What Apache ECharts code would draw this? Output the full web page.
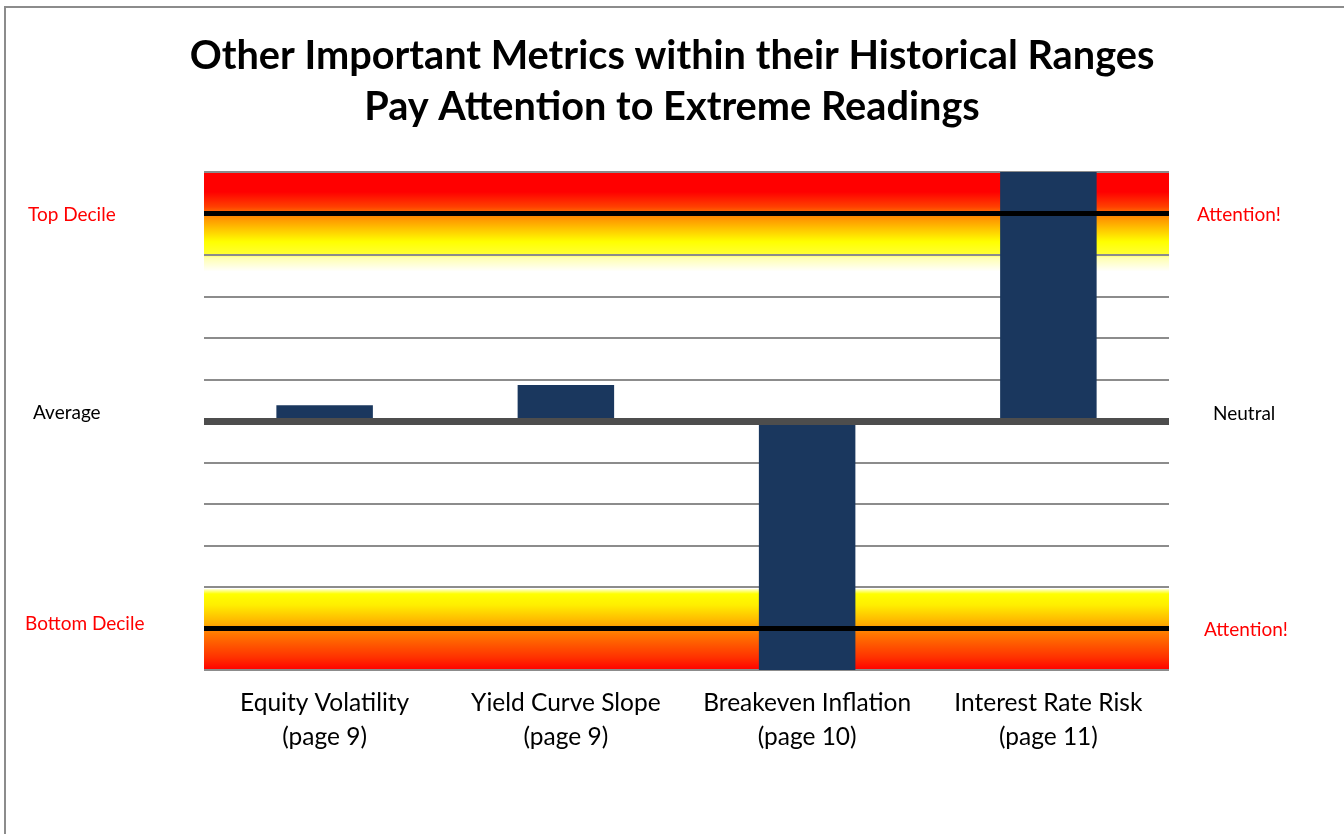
<!DOCTYPE html>
<html>
<head>
<meta charset="utf-8">
<script src="https://cdn.jsdelivr.net/npm/echarts@6/dist/echarts.min.js"></script>
<style>
html,body{margin:0;padding:0;background:#fff;}
#chart{width:1344px;height:834px;}
</style>
</head>
<body>
<div id="chart"></div>
<script>
// ---- data ----
const categories = ['Equity Volatility', 'Yield Curve Slope', 'Breakeven Inflation', 'Interest Rate Risk'];
const pageRefs = ['(page 9)', '(page 9)', '(page 10)', '(page 11)'];
const values = [0.38, 0.87, -6, 6];
const axisMin = -6;
const axisMax = 6;
const axisStep = 1;
const topDecile = 5;
const bottomDecile = -5;
const neutralLevel = 0;
const topBandLow = 3.6;
const bottomBandHigh = -4.05;
const titleLines = ['Other Important Metrics within their Historical Ranges', 'Pay Attention to Extreme Readings'];
const sideLabels = ['Top Decile', 'Attention!', 'Average', 'Neutral', 'Bottom Decile', 'Attention!'];

const FONT = 'Lato, "Open Sans", sans-serif';
const chart = echarts.init(document.getElementById('chart'), null, {renderer: 'canvas'});

const topGrad = {type: 'linear', x: 0, y: 0, x2: 0, y2: 1, colorStops: [
  {offset: 0, color: '#ff0000'}, {offset: 0.2, color: '#ff0000'},
  {offset: 0.35, color: '#ff4000'}, {offset: 0.44, color: '#ff8800'},
  {offset: 0.70, color: '#ffff00'}, {offset: 0.82, color: '#ffff30'},
  {offset: 0.86, color: '#ffffb0'}, {offset: 1, color: '#ffffff'}
]};
const botGrad = {type: 'linear', x: 0, y: 0, x2: 0, y2: 1, colorStops: [
  {offset: 0, color: '#ffffd0'}, {offset: 0.06, color: '#ffff00'},
  {offset: 0.2, color: '#ffee00'}, {offset: 0.42, color: '#ffb000'},
  {offset: 0.55, color: '#ff7800'}, {offset: 0.85, color: '#ff3000'},
  {offset: 1, color: '#ff0000'}
]};

function sideText(txt, x, y, color) {
  return {type: 'text', x: x, y: y, z: 10,
    style: {text: txt, fill: color, font: '19px ' + FONT, textVerticalAlign: 'middle'}};
}

chart.setOption({
  animation: false,
  backgroundColor: '#ffffff',
  title: {
    text: titleLines.join('\n'),
    left: 'center', top: 26,
    textStyle: {fontFamily: FONT, fontWeight: 'bold', fontSize: 39.7, lineHeight: 51, color: '#000'}
  },
  grid: {left: 204, right: 175, top: 172, bottom: 164},
  xAxis: {
    type: 'category',
    data: categories.map((c, i) => c + '\n' + pageRefs[i]),
    axisLine: {show: false}, axisTick: {show: false},
    axisLabel: {fontFamily: FONT, fontSize: 24.5, lineHeight: 34, color: '#000', margin: 16, interval: 0}
  },
  yAxis: {
    type: 'value', min: axisMin, max: axisMax, interval: axisStep, z: 2,
    axisLabel: {show: false}, axisLine: {show: false}, axisTick: {show: false},
    splitLine: {show: true, lineStyle: {color: '#8c8c8c', width: 2}}
  },
  graphic: [
    {type: 'rect', z: 10, shape: {x: 5, y: 7, width: 1400, height: 900},
     style: {fill: 'none', stroke: '#8c8c8c', lineWidth: 2}},
    sideText(sideLabels[0], 28, 215, '#ff0000'),
    sideText(sideLabels[1], 1197, 215, '#ff0000'),
    sideText(sideLabels[2], 33, 413, '#000000'),
    sideText(sideLabels[3], 1213, 414, '#000000'),
    sideText(sideLabels[4], 25, 624, '#ff0000'),
    sideText(sideLabels[5], 1204, 630, '#ff0000')
  ],
  series: [
    {
      type: 'line', data: [], z: 1, silent: true,
      markArea: {silent: true, data: [
        [{yAxis: axisMax, itemStyle: {color: topGrad}}, {yAxis: topBandLow}],
        [{yAxis: bottomBandHigh, itemStyle: {color: botGrad}}, {yAxis: axisMin}]
      ]}
    },
    {
      type: 'line', data: [], z: 2.5, silent: true,
      markLine: {silent: true, symbol: 'none', label: {show: false},
        lineStyle: {color: '#000', width: 5, type: 'solid'},
        data: [{yAxis: topDecile}]}
    },
    {
      type: 'bar', data: values, z: 3, barWidth: '40%',
      itemStyle: {color: '#1a375e'}
    },
    {
      type: 'line', data: [], z: 4, silent: true,
      markLine: {silent: true, symbol: 'none', label: {show: false},
        data: [
          {yAxis: bottomDecile, lineStyle: {color: '#000', width: 5, type: 'solid'}},
          {yAxis: neutralLevel, lineStyle: {color: '#4d4d4d', width: 7, type: 'solid'}}
        ]}
    }
  ]
});
</script>
</body>
</html>
